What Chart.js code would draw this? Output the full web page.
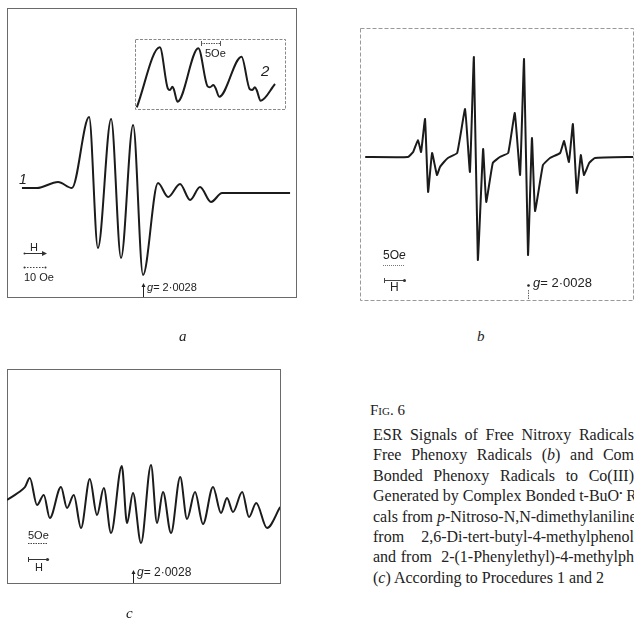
<!DOCTYPE html>
<html>
<head>
<meta charset="utf-8">
<script src="https://cdn.jsdelivr.net/npm/chart.js@4"></script>
<style>
  body { margin: 0; width: 634px; height: 621px; overflow: hidden; background: #fff; position: relative; }
  canvas, svg, .t { position: absolute; }
  .t { font-family: "Liberation Sans", Arial, sans-serif; color: #222; white-space: nowrap; line-height: 14px; }
  .lbl { font-family: "Liberation Serif", serif; font-style: italic; font-size: 15px; color: #222; position: absolute; }
  .cap { position: absolute; left: 373px; width: 261px; font-family: "Liberation Serif", "Times New Roman", serif;
         font-size: 16px; line-height: 20px; color: #222; text-align: justify; text-align-last: justify; white-space: nowrap; }
</style>
</head>
<body>
<svg width="634" height="621" id="deco"></svg>
<canvas id="chartA" width="289" height="289" style="left:7px;top:8px"></canvas>
<canvas id="chartInset" width="150" height="70" style="left:135px;top:39px"></canvas>
<canvas id="chartB" width="274" height="272" style="left:360px;top:28px"></canvas>
<canvas id="chartC" width="273" height="214" style="left:7px;top:369px"></canvas>

<!-- panel a texts -->
<div class="t" style="left:19px;top:172px;font-size:14px;font-style:italic">1</div>
<div class="t" style="left:261px;top:64px;font-size:15px;font-style:italic">2</div>
<div class="t" style="left:205px;top:46px;font-size:11px">5Oe</div>
<div class="t" style="left:30px;top:240px;font-size:11px">H</div>
<div class="t" style="left:24px;top:270px;font-size:11px">10 Oe</div>
<div class="t" style="left:147px;top:280px;font-size:11px"><i>g</i>= 2·0028</div>

<!-- panel b texts -->
<div class="t" style="left:383px;top:248px;font-size:12px">5O<i>e</i></div>
<div class="t" style="left:390px;top:280px;font-size:12px">H</div>
<div class="t" style="left:533px;top:276px;font-size:13px"><i>g</i>= 2·0028</div>

<!-- panel c texts -->
<div class="t" style="left:28px;top:528px;font-size:11px">5Oe</div>
<div class="t" style="left:35px;top:560px;font-size:11px">H</div>
<div class="t" style="left:137px;top:565px;font-size:12px"><i>g</i>= 2·0028</div>

<div class="lbl" style="left:179px;top:328px">a</div>
<div class="lbl" style="left:477px;top:328px">b</div>
<div class="lbl" style="left:126px;top:605px">c</div>

<!-- caption -->
<div class="cap" style="top:400px;left:370px;text-align:left;text-align-last:left;font-size:15px">F<span style="font-variant:small-caps">ig</span>. 6</div>
<div class="cap" style="top:425px">ESR Signals of Free Nitroxy Radicals</div>
<div class="cap" style="top:445px">Free Phenoxy Radicals (<i>b</i>) and Com</div>
<div class="cap" style="top:466px">Bonded Phenoxy Radicals to Co(III)</div>
<div class="cap" style="top:486px">Generated by Complex Bonded t-BuO<span style="position:relative;top:-5px;font-size:9px">•</span> R</div>
<div class="cap" style="top:507px">cals from <i>p</i>-Nitroso-N,N-dimethylaniline</div>
<div class="cap" style="top:527px">from&nbsp; 2,6-Di-tert-butyl-4-methylphenol</div>
<div class="cap" style="top:547px">and from&nbsp; 2-(1-Phenylethyl)-4-methylph</div>
<div class="cap" style="top:568px;text-align:left;text-align-last:left">(<i>c</i>) According to Procedures 1 and 2</div>

<script>
// spectrum a (curve 1): field in Oe relative to g = 2.0028, signal in arbitrary units
const aField = [-55.0, -48.2, -38.6, -32.3, -24.5, -20.5, -14.5, -10.0, -4.5, 0, 6.8, 11.4, 16.8, 21.4, 25.9, 30.9, 35.9, 66.8];
const aSignal = [2, 2, 8, 2, 73, -58, 71, -68, 65, -85, 7, -7, 6, -10, 3, -12, -3, -3];

// inset (curve 2)
const insetField = [0.5, 6.9, 9.1, 9.7, 10.4, 10.8, 11.8, 17.6, 20.1, 20.8, 21.8, 22.4, 23.4, 29.6, 31.9, 32.6, 33.3, 33.8, 34.9, 38.9];
const insetSignal = [1.7, 61.7, 20.7, 19, 22.3, 19.7, 7.3, 60.7, 23, 21.7, 24, 20.7, 12.3, 52.3, 19.7, 19, 21.7, 19, 8.3, 25];

// spectrum b
const bField = [-37.0, -27.3, -26.1, -25.0, -24.3, -23.4, -22.7, -21.8, -20.7, -20.0, -19.1, -18.2, -16.1, -14.3, -13.2, -12.3, -11.4, -10.2, -9.5, -8.0, -6.4, -4.5,
  -3.0, -1.8, -0.9, 0.0, 0.9, 1.6, 3.4, 5.0, 7.3, 8.2, 9.3, 10.2, 11.1, 12.0, 12.7, 13.9, 15.2, 23.9];
const bSignal = [0, 0, 5, 17, 5, 38, -35, 4, -18, -10, -5, -1, 4, 48, -15, 100, -103, 8, -45, -6, 0, 4,
  44, -18, 98, -98, 19, -54, -8, -1, 4, 16, -5, 33, -36, 2, -18, -6, -1, 0];

// spectrum c
const cField = [-31.5, -27.8, -27.0, -25.8, -24.0, -22.3, -20.8, -18.0, -16.5, -14.8, -13.0, -10.8, -9.0, -7.3, -5.5, -2.8, -1.5, 0.0, 2.0, 4.5,
  6.0, 7.5, 9.5, 11.8, 13.5, 15.5, 17.5, 20.0, 22.0, 23.5, 25.0, 27.3, 29.0, 30.8, 33.5, 36.8];
const cSignal = [5, 15, 18, 27, 0, 10, -13, 18, -3, 10, -23, 26, -10, 17, -28, 39, -18, 12, -38, 40,
  -18, 13, -28, 28, -14, 13, -19, 18, -8, 7, -7, 13, -12, 2, -23, -2];

function toPoints(xs, ys) {
  return xs.map((x, i) => ({ x: x, y: ys[i] }));
}

function makeSpectrum(id, xs, ys, xMin, xMax, yMin, yMax, smooth) {
  const ctx = document.getElementById(id).getContext('2d');
  return new Chart(ctx, {
    type: 'line',
    data: {
      datasets: [{
        data: toPoints(xs, ys),
        borderColor: '#1b1b1b',
        borderWidth: 2,
        pointRadius: 0,
        fill: false,
        clip: false,
        tension: smooth ? 0 : 0.1,
        cubicInterpolationMode: smooth ? 'monotone' : 'default'
      }]
    },
    options: {
      responsive: false,
      animation: false,
      layout: { padding: 0 },
      plugins: { legend: { display: false }, tooltip: { enabled: false } },
      scales: {
        x: { type: 'linear', display: false, min: xMin, max: xMax },
        y: { type: 'linear', display: false, min: yMin, max: yMax }
      }
    }
  });
}

makeSpectrum('chartA', aField, aSignal, -61.8, 69.5, -107, 182, true);
makeSpectrum('chartInset', insetField, insetSignal, 0, 41.67, 0, 70, true);
makeSpectrum('chartB', bField, bSignal, -38.18, 24.09, -143, 129, false);
makeSpectrum('chartC', cField, cSignal, -31.5, 36.75, -78, 136, true);

// frames, scale bars and g markers
const svg = document.getElementById('deco');
svg.innerHTML = `
  <rect x="7.5" y="8.5" width="289" height="289" fill="none" stroke="#6a6a6a" stroke-width="1"/>
  <rect x="135.5" y="39.5" width="150" height="70" fill="none" stroke="#888" stroke-width="1" stroke-dasharray="3 1.5"/>
  <rect x="360.5" y="28.5" width="273" height="272" fill="none" stroke="#999" stroke-width="1" stroke-dasharray="4 2"/>
  <rect x="7.5" y="369.5" width="273" height="214" fill="none" stroke="#6a6a6a" stroke-width="1"/>

  <line x1="201" y1="43.5" x2="220" y2="43.5" stroke="#555" stroke-dasharray="1.5 1"/>
  <line x1="201.5" y1="41" x2="201.5" y2="46" stroke="#555"/>
  <line x1="220.5" y1="41" x2="220.5" y2="46" stroke="#555"/>

  <line x1="24" y1="253.5" x2="44" y2="253.5" stroke="#333"/>
  <polygon points="47,253.5 42,251 42,256" fill="#333"/>
  <circle cx="24.5" cy="253.5" r="1" fill="#333"/>
  <line x1="24" y1="267.5" x2="46" y2="267.5" stroke="#444" stroke-dasharray="1.5 1.5"/>
  <circle cx="24.5" cy="267.5" r="1" fill="#333"/>
  <circle cx="45.5" cy="267.5" r="1" fill="#333"/>
  <line x1="143.5" y1="286" x2="143.5" y2="297" stroke="#222"/>
  <polygon points="143.5,283 141.5,287 145.5,287" fill="#222"/>

  <line x1="383" y1="265.5" x2="405" y2="265.5" stroke="#777" stroke-dasharray="1 1"/>
  <line x1="384" y1="280.5" x2="404" y2="280.5" stroke="#444"/>
  <line x1="384.5" y1="278" x2="384.5" y2="283" stroke="#444"/>
  <circle cx="404.5" cy="280.5" r="1.5" fill="#333"/>
  <circle cx="528.5" cy="285.5" r="1.3" fill="#222"/>
  <line x1="528.5" y1="290" x2="528.5" y2="300" stroke="#666" stroke-dasharray="1.5 1"/>

  <line x1="28" y1="543.5" x2="48" y2="543.5" stroke="#444" stroke-dasharray="1.5 1"/>
  <line x1="28" y1="559.5" x2="46" y2="559.5" stroke="#333"/>
  <line x1="28.5" y1="557" x2="28.5" y2="562" stroke="#333"/>
  <circle cx="47.5" cy="559.5" r="1.6" fill="#333"/>
  <line x1="133.5" y1="573" x2="133.5" y2="583" stroke="#222"/>
  <polygon points="133.5,570 131.5,574 135.5,574" fill="#222"/>
`;
</script>
</body>
</html>
